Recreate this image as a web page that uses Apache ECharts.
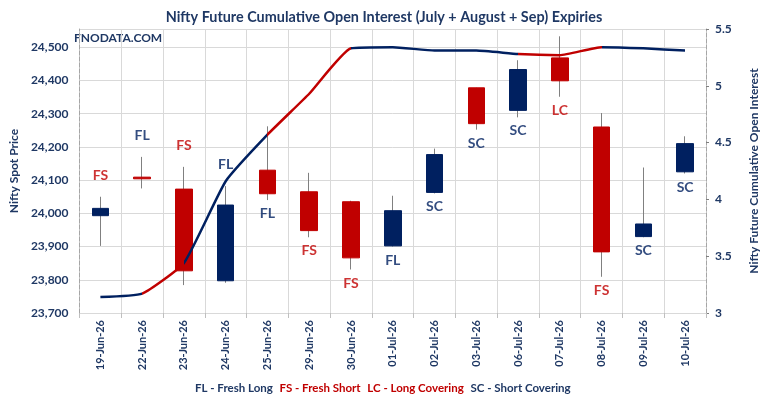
<!DOCTYPE html>
<html>
<head>
<meta charset="utf-8">
<script src="https://cdn.jsdelivr.net/npm/echarts@6/dist/echarts.min.js"></script>
<style>
  html, body { margin: 0; padding: 0; background: #fff; }
  #main { width: 768px; height: 399px; }
</style>
</head>
<body>
<div id="main"></div>
<script>
var dates = ['19-Jun-26','22-Jun-26','23-Jun-26','24-Jun-26','25-Jun-26','29-Jun-26','30-Jun-26',
             '01-Jul-26','02-Jul-26','03-Jul-26','06-Jul-26','07-Jul-26','08-Jul-26','09-Jul-26','10-Jul-26'];
var opens  = [23993, 24109, 24073, 23797, 24130, 24065, 24035, 23902, 24063, 24378, 24310, 24468, 24260, 23930, 24125];
var closes = [24015, 24104, 23827, 24025, 24059, 23948, 23866, 24008, 24177, 24270, 24433, 24399, 23884, 23968, 24210];
var lows   = [23902, 24075, 23784, 23791, 24040, 23928, 23831, 23900, 24060, 24252, 24289, 24351, 23809, 23928, 24120];
var highs  = [24050, 24170, 24140, 24082, 24262, 24122, 24038, 24053, 24195, 24378, 24461, 24533, 24302, 24138, 24232];
var openInterest = [3.14, 3.17, 3.44, 4.16, 4.57, 4.93, 5.33, 5.34, 5.31, 5.31, 5.28, 5.27, 5.34, 5.33, 5.31];
var tags     = ['FS','FL','FS','FL','FL','FS','FS','FL','SC','SC','SC','LC','FS','SC','SC'];
var tagAbove = [true, true, true, true, false, false, false, false, false, false, false, false, false, false, false];

var NAVY = '#002060';
var RED = '#C00000';
var TEXT = '#1F3864';
var FONT = 'Lato';

function tagColor(t) {
    return (t === 'FS' || t === 'LC') ? RED : NAVY;
}

// line segment colour follows the tag of the day it ends on
var pieces = [{ lte: 0, color: NAVY }];
for (var i = 1; i < tags.length; i++) {
    pieces.push({ gt: i - 1, lte: i, color: tagColor(tags[i]) });
}

var wicks = dates.map(function (d, i) {
    return [lows[i], lows[i], lows[i], highs[i]];
});
var bodies = dates.map(function (d, i) {
    return [opens[i], closes[i], Math.min(opens[i], closes[i]), Math.max(opens[i], closes[i])];
});
var tagPoints = dates.map(function (d, i) {
    return {
        value: [i, tagAbove[i] ? highs[i] : lows[i]],
        label: {
            position: tagAbove[i] ? 'top' : 'bottom',
            distance: tagAbove[i] ? 14 : 6,
            color: tagColor(tags[i])
        }
    };
});

var chart = echarts.init(document.getElementById('main'));
chart.setOption({
    animation: false,
    title: {
        text: 'Nifty Future Cumulative Open Interest (July + August + Sep) Expiries',
        left: 'center',
        top: 5,
        textStyle: { color: TEXT, fontSize: 14.4, fontWeight: 'bold', fontFamily: FONT }
    },
    grid: { left: 71, right: 60, top: 29, bottom: 86 },
    graphic: [
        {
            type: 'text', left: 74, top: 32,
            style: { text: 'FNODATA.COM', fill: TEXT, font: 'bold 12px Lato' }
        },
        {
            type: 'text', left: 195, top: 382,
            style: {
                text: '{a|FL - Fresh Long}  {b|FS - Fresh Short}  {b|LC - Long Covering}  {a|SC - Short Covering}',
                rich: {
                    a: { fill: TEXT, font: 'bold 11.5px Lato' },
                    b: { fill: RED, font: 'bold 11.5px Lato' }
                }
            }
        }
    ],
    visualMap: {
        show: false,
        seriesIndex: 2,
        dimension: 0,
        pieces: pieces
    },
    xAxis: {
        type: 'category',
        data: dates,
        boundaryGap: true,
        axisLine: { lineStyle: { color: '#D9D9D9' } },
        axisTick: { show: true, length: 5, lineStyle: { color: '#BFBFBF' } },
        splitLine: { show: true, lineStyle: { color: '#D9D9D9' } },
        axisLabel: {
            rotate: 90, margin: 7, interval: 0,
            color: TEXT, fontSize: 11, fontWeight: 'bold', fontFamily: FONT
        }
    },
    yAxis: [
        {
            type: 'value',
            min: 23700, max: 24555, interval: 100,
            name: 'Nifty Spot Price',
            nameLocation: 'middle', nameRotate: 90, nameGap: 52,
            nameTextStyle: { color: TEXT, fontSize: 12, fontWeight: 'bold', fontFamily: FONT },
            axisLine: { show: true, lineStyle: { color: '#A6A6A6', type: 'dashed' } },
            axisTick: { show: false },
            splitLine: { show: true, lineStyle: { color: '#D9D9D9' } },
            axisLabel: {
                showMaxLabel: false, margin: 11,
                color: TEXT, fontSize: 12, fontWeight: 'bold', fontFamily: FONT
            }
        },
        {
            type: 'value',
            position: 'right',
            min: 3, max: 5.5, interval: 0.5,
            name: 'Nifty Future Cumulative Open Interest',
            nameLocation: 'middle', nameRotate: 90, nameGap: 42,
            nameTextStyle: { color: TEXT, fontSize: 12, fontWeight: 'bold', fontFamily: FONT },
            axisLine: { show: true, lineStyle: { color: '#A6A6A6', type: 'dashed' } },
            axisTick: { show: true, length: 3, lineStyle: { color: '#7F7F7F' } },
            splitLine: { show: false },
            axisLabel: {
                margin: 9,
                color: TEXT, fontSize: 12, fontWeight: 'bold', fontFamily: FONT
            }
        }
    ],
    series: [
        {
            name: 'wick',
            type: 'candlestick',
            data: wicks,
            barWidth: 1,
            itemStyle: {
                color: '#808080', color0: '#808080',
                borderColor: '#808080', borderColor0: '#808080', borderWidth: 1
            },
            z: 2
        },
        {
            name: 'body',
            type: 'candlestick',
            data: bodies,
            barWidth: 17,
            itemStyle: {
                color: NAVY, color0: RED,
                borderColor: NAVY, borderColor0: RED, borderWidth: 1
            },
            z: 3
        },
        {
            name: 'Open Interest',
            type: 'line',
            yAxisIndex: 1,
            data: openInterest,
            smooth: 0.15,
            symbol: 'none',
            lineStyle: { width: 2.5 },
            z: 4
        },
        {
            name: 'tags',
            type: 'scatter',
            data: tagPoints,
            symbolSize: 1,
            itemStyle: { color: 'rgba(0,0,0,0)' },
            label: {
                show: true,
                formatter: function (p) { return tags[p.dataIndex]; },
                fontSize: 14, fontWeight: 'bold', fontFamily: FONT
            },
            z: 5
        }
    ]
});
</script>
</body>
</html>
